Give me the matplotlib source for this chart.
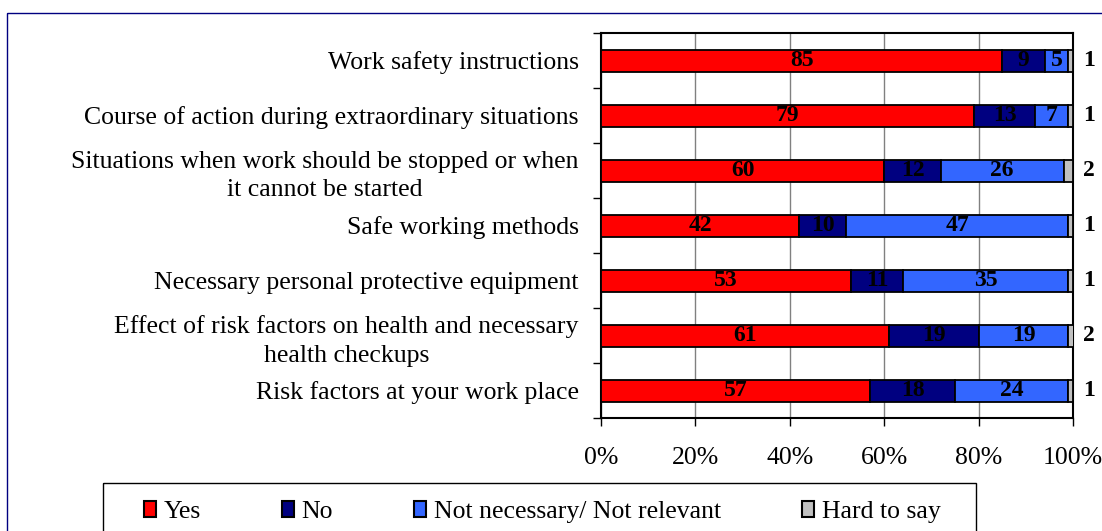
import matplotlib
matplotlib.use("Agg")
import matplotlib.pyplot as plt
from matplotlib.patches import Patch, Rectangle
import numpy as np

plt.rcParams["font.family"] = "Liberation Serif"

categories = [
    "Work safety instructions",
    "Course of action during extraordinary situations",
    "Situations when work should be stopped or when\nit cannot be started",
    "Safe working methods",
    "Necessary personal protective equipment",
    "Effect of risk factors on health and necessary\nhealth checkups",
    "Risk factors at your work place",
]
yes = [85, 79, 60, 42, 53, 61, 57]
no = [9, 13, 12, 10, 11, 19, 18]
not_necessary = [5, 7, 26, 47, 35, 19, 24]
hard_to_say = [1, 1, 2, 1, 1, 2, 1]

series_names = ["Yes", "No", "Not necessary/ Not relevant", "Hard to say"]
series_colors = ["#FF0000", "#000080", "#3366FF", "#C0C0C0"]
xticks = [0, 20, 40, 60, 80, 100]

W, H = 1102, 531
FS = 18.5
LFS = 17
fig = plt.figure(figsize=(W / 100, H / 100), dpi=100)
fig.patch.set_facecolor("white")

# outer chart frame (only left and top edges fall inside the canvas)
fig.patches.append(Rectangle((7 / W, 1 - 13 / H), 2, -2, transform=fig.transFigure,
                             fill=False, edgecolor="#000080", lw=1.0, clip_on=False))

ax = fig.add_axes([601 / W, 1 - 418 / H, 472 / W, 385 / H])

n = len(categories)
ypos = np.arange(n)
series = [yes, no, not_necessary, hard_to_say]
left = np.zeros(n)
bar_h = 0.40
for vals, name, col in zip(series, series_names, series_colors):
    vals = np.array(vals, dtype=float)
    bars = ax.barh(ypos, vals, left=left, height=bar_h, color=col,
                   edgecolor="black", linewidth=1.3, label=name, zorder=3)
    if name != "Hard to say":
        for b, v in zip(bars, vals):
            ax.text(b.get_x() + b.get_width() / 2, b.get_y() + b.get_height() / 2,
                    f"{v:.0f}", ha="center", va="center", fontsize=LFS,
                    fontweight="bold", color="black", zorder=4)
    else:
        for b, v in zip(bars, vals):
            ax.text(103.3, b.get_y() + b.get_height() / 2, f"{v:.0f}",
                    ha="center", va="center", fontsize=LFS, fontweight="bold",
                    color="black", clip_on=False)
    left += vals

ax.set_xlim(0, 100)
ax.set_ylim(n - 0.5, -0.5)

ax.set_xticks(xticks)
ax.set_xticklabels([f"{t}%" for t in xticks], fontsize=FS)
ax.tick_params(axis="x", direction="out", length=6, width=1, pad=15, colors="black")

ax.set_yticks(ypos)
ax.set_yticklabels(categories, fontsize=FS, linespacing=1.37)
for t in ax.get_yticklabels():
    t.set_multialignment("center")
ax.tick_params(axis="y", which="major", length=0, pad=16)
ax.set_yticks(np.arange(n + 1) - 0.5, minor=True)
ax.tick_params(axis="y", which="minor", direction="out", length=6, width=1)

ax.grid(axis="x", color="#808080", lw=1.0, zorder=0)
for s in ax.spines.values():
    s.set_color("black")
    s.set_linewidth(1.5)

# legend box
fig.patches.append(Rectangle((103 / W, 1 - 483 / H), 873 / W, -70 / H,
                             transform=fig.transFigure, fill=False,
                             edgecolor="black", lw=1.0, clip_on=False))
handles = [Patch(facecolor=c, edgecolor="black", linewidth=1.5) for c in series_colors]
fig.legend(handles, series_names, loc="center left",
           bbox_to_anchor=(144 / W, 1 - 512 / H), ncol=4, frameon=False,
           fontsize=FS, handlelength=0.47, handleheight=0.55, handletextpad=0.3,
           columnspacing=3.15, borderpad=0, borderaxespad=0)

fig.savefig("out.png", dpi=100)
